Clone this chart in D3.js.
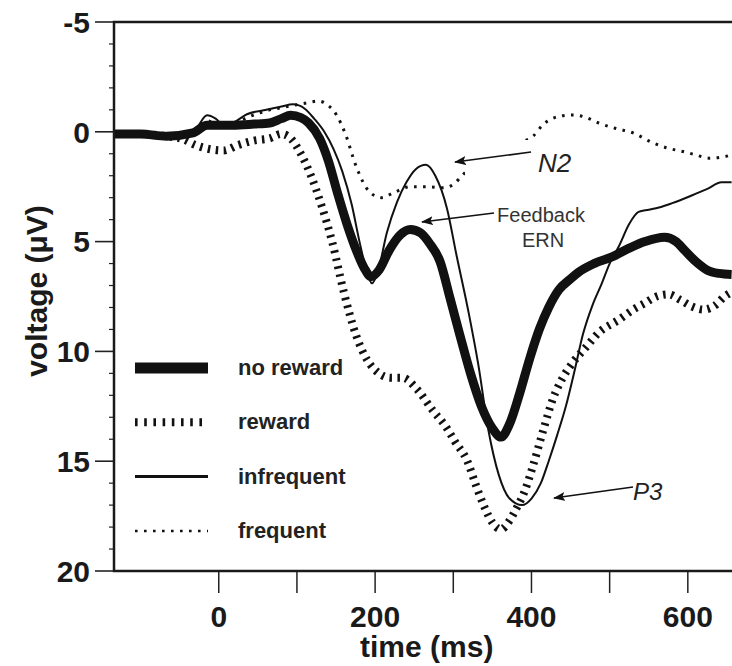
<!DOCTYPE html>
<html>
<head>
<meta charset="utf-8">
<script src="https://cdn.jsdelivr.net/npm/d3@7"></script>
<style>
  body { margin: 0; background: white; }
  text { font-family: "Liberation Sans", Arial, sans-serif; }
</style>
</head>
<body>
<div id="chart"></div>
<script>

/**
* CONSTANTS AND GLOBALS
* */
const width = 732,
      height = 666,
      margin = { top: 22, bottom: 95, left: 114, right: 0 };

// ERP traces: [time (ms), voltage (uV)], negative up
const noReward = [
  [-134,0.1],[-100,0.1],[-67,0.2],[-33,0.05],[-15,-0.3],[18,-0.3],[45,-0.35],[65,-0.4],
  [80,-0.6],[92,-0.75],[105,-0.65],[115,-0.4],[129,0.3],[140,1.3],[152,2.8],[164,4.2],
  [176,5.4],[186,6.2],[195,6.6],[205,6.3],[218,5.4],[232,4.7],[245,4.45],[258,4.6],
  [270,5.1],[283,5.9],[296,7.6],[308,9.2],[322,11.0],[336,12.5],[350,13.5],[361,13.9],
  [372,13.3],[385,11.9],[398,10.3],[410,9.0],[422,8.0],[435,7.2],[450,6.7],[460,6.4],
  [480,6.0],[503,5.7],[525,5.3],[545,5.0],[570,4.8],[585,5.0],[596,5.4],[610,5.9],
  [625,6.3],[640,6.45],[656,6.5]
];

const reward = [
  [-134,0.1],[-100,0.1],[-67,0.2],[-45,0.35],[-30,0.6],[-10,0.8],[6,0.85],[25,0.6],
  [45,0.4],[65,0.3],[80,0.1],[92,0.3],[105,1.0],[118,2.0],[130,3.2],[145,5.0],[160,7.3],
  [176,9.3],[190,10.4],[205,11.0],[220,11.2],[235,11.2],[253,11.7],[274,12.7],[290,13.4],
  [302,14.1],[318,15.0],[329,16.1],[340,17.1],[350,17.8],[361,18.1],[372,17.7],[380,17.2],
  [392,16.3],[402,15.2],[415,13.6],[427,12.2],[440,11.2],[453,10.5],[470,9.8],[486,9.15],
  [512,8.55],[530,8.1],[545,7.8],[560,7.5],[575,7.4],[590,7.65],[605,7.95],[620,8.1],
  [635,7.9],[647,7.5],[656,7.3]
];

const infrequent = [
  [-134,0.1],[-100,0.1],[-67,0.2],[-40,0.1],[-28,-0.2],[-15,-0.75],[-4,-0.6],[5,-0.35],
  [20,-0.45],[36,-0.8],[61,-1.0],[80,-1.15],[95,-1.25],[110,-1.05],[122,-0.6],[135,0.0],
  [147,0.8],[158,1.8],[170,3.3],[180,5.0],[188,6.2],[196,6.9],[204,6.3],[215,4.6],
  [228,3.2],[240,2.3],[252,1.7],[265,1.5],[277,2.0],[292,3.5],[304,5.6],[320,8.3],
  [332,10.6],[345,13.6],[358,15.6],[372,16.7],[388,17.0],[400,16.7],[412,16.0],[422,15.0],
  [433,13.8],[444,12.5],[455,10.9],[466,9.2],[478,7.9],[490,6.9],[500,6.0],[512,5.2],
  [525,4.2],[537,3.65],[550,3.55],[563,3.45],[580,3.25],[605,2.9],[625,2.6],[643,2.3],[656,2.3]
];

const frequent = [
  [-134,0.1],[-100,0.05],[-67,0.1],[-33,0.0],[-15,-0.5],[0,-0.3],[20,-0.4],[40,-0.7],
  [60,-0.95],[80,-1.1],[95,-1.2],[110,-1.3],[128,-1.4],[140,-1.2],[150,-0.8],[162,0.1],
  [176,1.6],[192,2.7],[208,3.0],[225,2.75],[245,2.5],[265,2.5],[287,2.55],[300,2.4],
  [311,2.0],[330,1.4],[350,1.0],[375,0.6],[402,0.2],[414,-0.3],[435,-0.7],[454,-0.77],
  [470,-0.65],[486,-0.4],[508,-0.15],[530,0.05],[555,0.5],[575,0.75],[594,0.9],[610,1.05],
  [627,1.2],[645,1.15],[656,1.05]
];

const legendLabels = ["no reward", "reward", "infrequent", "frequent"];
const yTickLabels = [-5, 0, 5, 10, 15, 20];
const xTickLabels = [0, 200, 400, 600];

// line styles per trace
const styles = {
  "no reward":  { width: 9,   dash: null,      legendWidth: 11 },
  "reward":     { width: 8,   dash: "2.5,5.5", legendWidth: 8 },
  "infrequent": { width: 2,   dash: null,      legendWidth: 3 },
  "frequent":   { width: 3,   dash: "2.6,6.4", legendWidth: 2.5 }
};

const series = [
  { name: "reward", values: reward },
  { name: "frequent", values: frequent },
  { name: "infrequent", values: infrequent },
  { name: "no reward", values: noReward }
];

/**
* SCALES
* */
const x = d3.scaleLinear()
  .domain([-134, 700])
  .range([margin.left, 766]);

const y = d3.scaleLinear()
  .domain([-5, 20])
  .range([margin.top, height - margin.bottom]);

const svg = d3.select("#chart")
  .append("svg")
  .attr("width", width)
  .attr("height", height)
  .style("background", "white");

const defs = svg.append("defs");

defs.append("clipPath")
  .attr("id", "plot-clip")
  .append("rect")
  .attr("x", margin.left)
  .attr("y", margin.top)
  .attr("width", width - margin.left)
  .attr("height", y(20) - y(-5));

defs.append("marker")
  .attr("id", "arrow")
  .attr("viewBox", "0 0 12 9")
  .attr("refX", 11)
  .attr("refY", 4.5)
  .attr("markerWidth", 12)
  .attr("markerHeight", 9)
  .attr("markerUnits", "userSpaceOnUse")
  .attr("orient", "auto")
  .append("path")
  .attr("d", "M0,0 L12,4.5 L0,9 L2.5,4.5 Z")
  .attr("fill", "#111");

/**
* TRACES
* */
const line = d3.line()
  .x(d => x(d[0]))
  .y(d => y(d[1]))
  .curve(d3.curveMonotoneX);

const plot = svg.append("g").attr("clip-path", "url(#plot-clip)");

plot.selectAll("path.trace")
  .data(series)
  .enter()
  .append("path")
  .attr("class", "trace")
  .attr("d", d => line(d.values))
  .attr("fill", "none")
  .attr("stroke", "#111")
  .attr("stroke-width", d => styles[d.name].width)
  .attr("stroke-dasharray", d => styles[d.name].dash)
  .attr("stroke-linejoin", "round");

/**
* AXES
* */
const yMinor = d3.range(-5, 21, 1);

svg.append("g")
  .selectAll("line")
  .data(yMinor)
  .enter()
  .append("line")
  .attr("x1", d => d % 5 === 0 ? 95 : 109)
  .attr("x2", margin.left)
  .attr("y1", d => y(d))
  .attr("y2", d => y(d))
  .attr("stroke", "#222")
  .attr("stroke-width", d => d % 5 === 0 ? 1.6 : 1.2);

svg.append("g")
  .selectAll("text")
  .data(yTickLabels)
  .enter()
  .append("text")
  .attr("x", 90)
  .attr("y", d => y(d))
  .attr("dy", "0.36em")
  .attr("text-anchor", "end")
  .attr("font-size", 30)
  .attr("font-weight", "bold")
  .attr("fill", "#1a1a1a")
  .text(d => d);

svg.append("g")
  .selectAll("line")
  .data(d3.range(0, 701, 100))
  .enter()
  .append("line")
  .attr("x1", d => x(d))
  .attr("x2", d => x(d))
  .attr("y1", y(20))
  .attr("y2", y(20) + 22)
  .attr("stroke", "#222")
  .attr("stroke-width", 1.5);

svg.append("g")
  .selectAll("text")
  .data(xTickLabels)
  .enter()
  .append("text")
  .attr("x", d => x(d))
  .attr("y", 627)
  .attr("text-anchor", "middle")
  .attr("font-size", 30)
  .attr("font-weight", "bold")
  .attr("fill", "#1a1a1a")
  .text(d => d);

// frame: left axis, bottom axis and top border
svg.append("path")
  .attr("d", `M${width},${y(-5)} H${margin.left} V${y(20)} H${width}`)
  .attr("fill", "none")
  .attr("stroke", "#1a1a1a")
  .attr("stroke-width", 2.5);

svg.append("text")
  .attr("x", x(266))
  .attr("y", 657)
  .attr("text-anchor", "middle")
  .attr("font-size", 30)
  .attr("font-weight", "bold")
  .attr("fill", "#1a1a1a")
  .text("time (ms)");

svg.append("text")
  .attr("transform", "translate(47,291) rotate(-90)")
  .attr("text-anchor", "middle")
  .attr("font-size", 30)
  .attr("font-weight", "bold")
  .attr("fill", "#1a1a1a")
  .text("voltage (\u03BCV)");

/**
* LEGEND
* */
const legend = svg.append("g")
  .selectAll("g")
  .data(legendLabels)
  .enter()
  .append("g")
  .attr("transform", (d, i) => `translate(0, ${368 + i * 54.3})`);

legend.append("line")
  .attr("x1", 135)
  .attr("x2", 208)
  .attr("stroke", "#111")
  .attr("stroke-width", d => styles[d].legendWidth)
  .attr("stroke-dasharray", d => d === "reward" ? "2.6,6.6" : styles[d].dash);

legend.append("text")
  .attr("x", 238)
  .attr("y", 7)
  .attr("font-size", 22)
  .attr("font-weight", "bold")
  .attr("fill", "#222")
  .text(d => d);

/**
* ANNOTATIONS
* */
// the N2 label box hides the frequent trace behind it in the original figure
svg.append("rect")
  .attr("x", 465)
  .attr("y", 140)
  .attr("width", 66)
  .attr("height", 45)
  .attr("fill", "white");

const arrows = [
  { from: [531, 152], to: [455, 162] },
  { from: [494, 213], to: [422, 222] },
  { from: [633, 487], to: [554, 498] }
];

svg.append("g")
  .selectAll("line")
  .data(arrows)
  .enter()
  .append("line")
  .attr("x1", d => d.from[0])
  .attr("y1", d => d.from[1])
  .attr("x2", d => d.to[0])
  .attr("y2", d => d.to[1])
  .attr("stroke", "#111")
  .attr("stroke-width", 1.7)
  .attr("marker-end", "url(#arrow)");

svg.append("text")
  .attr("x", 538)
  .attr("y", 172)
  .attr("font-size", 26)
  .attr("font-style", "italic")
  .attr("fill", "#222")
  .text("N2");

svg.append("text")
  .attr("x", 541)
  .attr("y", 222)
  .attr("text-anchor", "middle")
  .attr("font-size", 20)
  .attr("fill", "#333")
  .text("Feedback");

svg.append("text")
  .attr("x", 543)
  .attr("y", 247)
  .attr("text-anchor", "middle")
  .attr("font-size", 20)
  .attr("fill", "#333")
  .text("ERN");

svg.append("text")
  .attr("x", 633)
  .attr("y", 500)
  .attr("font-size", 24)
  .attr("font-style", "italic")
  .attr("fill", "#222")
  .text("P3");

</script>
</body>
</html>
